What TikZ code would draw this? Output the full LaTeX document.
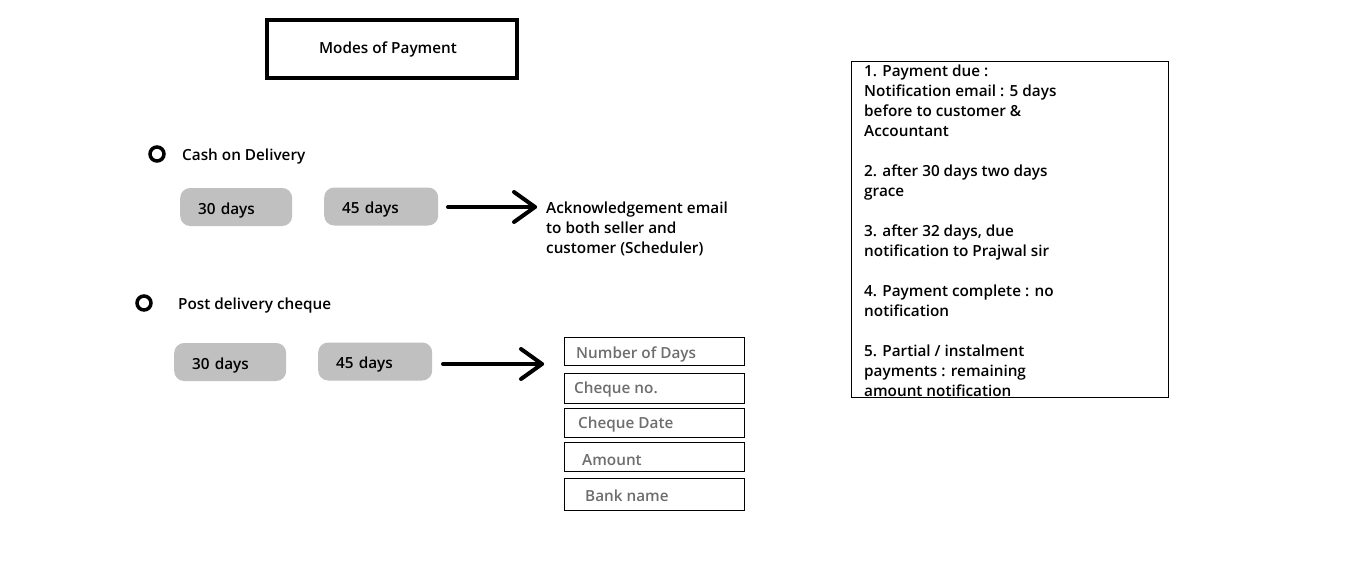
\documentclass[tikz,border=0pt]{standalone}
\usepackage{fontspec}
\setmainfont{Open Sans}
\IfFontExistsTF{Open Sans Semibold}{\newfontfamily\sbfont{Open Sans Semibold}}{\newfontfamily\sbfont{Open Sans}[UprightFont=* Bold]}
\begin{document}
\begin{tikzpicture}[x=1pt,y=-1pt,
  txt/.style={font=\sbfont\fontsize{15.3}{20}\selectfont},
  lbl/.style={txt,anchor=west,inner sep=0pt,yshift=-2.5pt},
  daybox/.style={txt,fill=daygray,rounded corners=10pt,minimum height=38pt,text width=76pt,text height=14pt,text depth=0pt,align=left,inner xsep=18pt,inner ysep=0pt},
  field/.style={draw=black,line width=1pt,minimum width=180pt,inner sep=0pt},
  ftext/.style={txt,anchor=west,inner sep=0pt,text=fieldgray,yshift=-2pt},
  bullet/.style={circle,draw=black,line width=3.5pt,minimum size=14pt,inner sep=0pt},
  bigarrow/.style={line width=4pt,line cap=round,line join=round}]
\definecolor{daygray}{HTML}{C0C0C0}
\definecolor{fieldgray}{HTML}{6E6E6E}
\useasboundingbox (0,0) rectangle (1358,573);
\fill[white] (0,0) rectangle (1358,573);

% title
\node[txt,draw=black,line width=4pt,minimum width=250pt,minimum height=58pt,inner sep=0pt] (title) at (392,49) {\hspace{-8pt}\raisebox{-1pt}{Modes of Payment}};

% cash on delivery
\node[bullet] (b1) at (157,154) {};
\node[lbl] (cod) at (182,154) {Cash on Delivery};
\node[daybox,anchor=west] (c30) at (180,207) {30 days};
\node[daybox,anchor=west,text width=78pt] (c45) at (324,206.5) {45 days};
\coordinate (a1s) at (448,207);
\coordinate (a1e) at (535,207);
\draw[bigarrow] (a1s) -- (a1e);
\draw[bigarrow] ([shift={(-21,-15)}]a1e) -- (a1e) -- ([shift={(-21,15)}]a1e);
\node[txt,anchor=north west,inner sep=0pt,align=left] (ack) at (546,202) {Acknowledgement email\\to both seller and\\customer (Scheduler)};

% post delivery cheque
\node[bullet] (b2) at (144,303) {};
\node[lbl] (pdc) at (178,303) {Post delivery cheque};
\node[daybox,anchor=west] (p30) at (174,362) {30 days};
\node[daybox,anchor=west,text width=78pt] (p45) at (318,361.5) {45 days};
\coordinate (a2s) at (443,364);
\coordinate (a2e) at (542,364);
\draw[bigarrow] (a2s) -- (a2e);
\draw[bigarrow] ([shift={(-21,-15)}]a2e) -- (a2e) -- ([shift={(-21,15)}]a2e);

% fields
\node[field,minimum height=28pt] (f1) at (654,351) {};
\node[ftext] at (576,352) {Number of Days};
\node[field,minimum height=30pt] (f2) at (654,388) {};
\node[ftext] at (574,388) {Cheque no.};
\node[field,minimum height=29pt] (f3) at (654,422.5) {};
\node[ftext] at (578,423) {Cheque Date};
\node[field,minimum height=29pt] (f4) at (654,456.5) {};
\node[ftext] at (582,458) {Amount};
\node[field,minimum height=32pt] (f5) at (654,494) {};
\node[ftext] at (585,494) {Bank name};

% notes box
\begin{scope}
\clip (851,61) rectangle (1168,397);
\node[txt,anchor=north west,inner sep=0pt,align=left] (notes) at (864,65) {1. Payment due :\\Notification email : 5 days\\before to customer \&\\Accountant\\[20pt]2. after 30 days two days\\grace\\[20pt]3. after 32 days, due\\notification to Prajwal sir\\[20pt]4. Payment complete : no\\notification\\[20pt]5. Partial / instalment\\payments : remaining\\amount notification};
\end{scope}
\draw[line width=1pt] (851,61) rectangle (1168,397);
\end{tikzpicture}
\end{document}
